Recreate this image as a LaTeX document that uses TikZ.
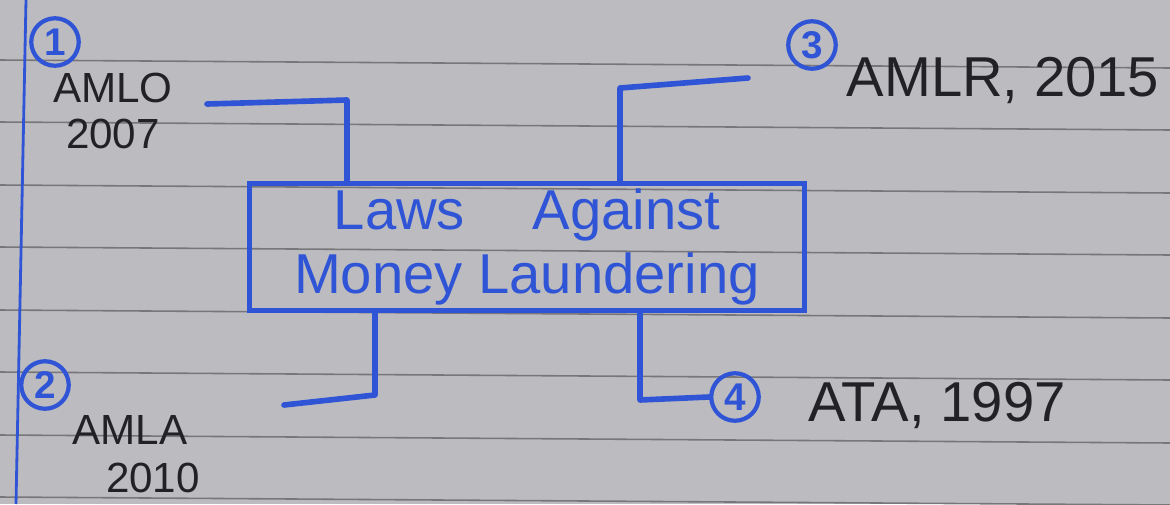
\documentclass[tikz,border=0pt]{standalone}
\usepackage{fontspec}
\setmainfont{Liberation Sans}
\usepackage{xcolor}
\definecolor{Paper}{HTML}{BCBCC0}
\definecolor{RuleGray}{HTML}{77777A}
\definecolor{InkBlue}{HTML}{2F54D6}
\definecolor{InkDark}{HTML}{222226}

\begin{document}
\begin{tikzpicture}[
	x=0.02cm, y=0.02cm,
	% Central box style
	law box/.style={
		draw=InkBlue,
		line width=2.6pt,
		minimum width=11.1cm,
		minimum height=2.5cm,
		text=InkBlue,
		align=center,
		font=\fontsize{32}{36}\selectfont
	},
	% Circled number style
	num node/.style={
		circle,
		draw=InkBlue,
		line width=2.4pt,
		minimum size=0.95cm,
		inner sep=0pt,
		text=InkBlue,
		font=\fontsize{22}{24}\selectfont\bfseries
	},
	% Law name style
	label node/.style={
		text=InkDark,
		align=center,
		inner sep=0pt,
		font=\fontsize{24}{26}\selectfont
	},
	wide label/.style={
		label node,
		font=\fontsize{32}{36}\selectfont
	},
	% Connector style
	conn/.style={
		draw=InkBlue,
		line width=3.2pt,
		line cap=round,
		line join=round
	},
	ruling/.style={
		draw=RuleGray,
		line width=0.9pt
	}
	]
	
	% ================= PAPER =================
	\fill[Paper] (0,0) rectangle (1170,-504);
	\useasboundingbox (0,0) rectangle (1170,-504);
	\foreach \y in {60,122,185,247,310,372,435,497}
		\draw[ruling] (0,-\y) -- (1170,-\y-8);
	\draw[InkBlue, line width=1.6pt] (26,0) -- (16,-504);
	
	% ================= NODES =================
	\node[law box] (laws) at (527,-247) {Laws\hspace{1.2em}Against\\Money Laundering};
	
	\node[num node] (n1) at (55,-42) {1};
	\node[label node] (amlo) at (113,-111) {AMLO\\2007};
	
	\node[num node] (n3) at (812,-45) {3};
	\node[wide label] (amlr) at (1003,-80) {AMLR, 2015};
	
	\node[num node] (n2) at (45,-385) {2};
	\node[label node] (amla) at (130,-430) {AMLA};
	\node[label node] (yr2010) at (153,-478) {2010};
	
	\node[num node] (n4) at (735,-397) {4};
	\node[wide label] (ata) at (937,-405) {ATA, 1997};
	
	% ================= EDGES =================
	\coordinate (k1) at (347,-100);
	\coordinate (e1) at (207,-104);
	\draw[conn] (k1 |- laws.north) -- (k1) -- (e1);
	
	\coordinate (k3) at (620,-88);
	\coordinate (e3) at (748,-78);
	\draw[conn] (k3 |- laws.north) -- (k3) -- (e3);
	
	\coordinate (k2) at (375,-395);
	\coordinate (e2) at (284,-405);
	\draw[conn] (k2 |- laws.south) -- (k2) -- (e2);
	
	\coordinate (k4) at (640,-400);
	\draw[conn] (k4 |- laws.south) -- (k4) -- (n4.west);
	
\end{tikzpicture}
\end{document}
